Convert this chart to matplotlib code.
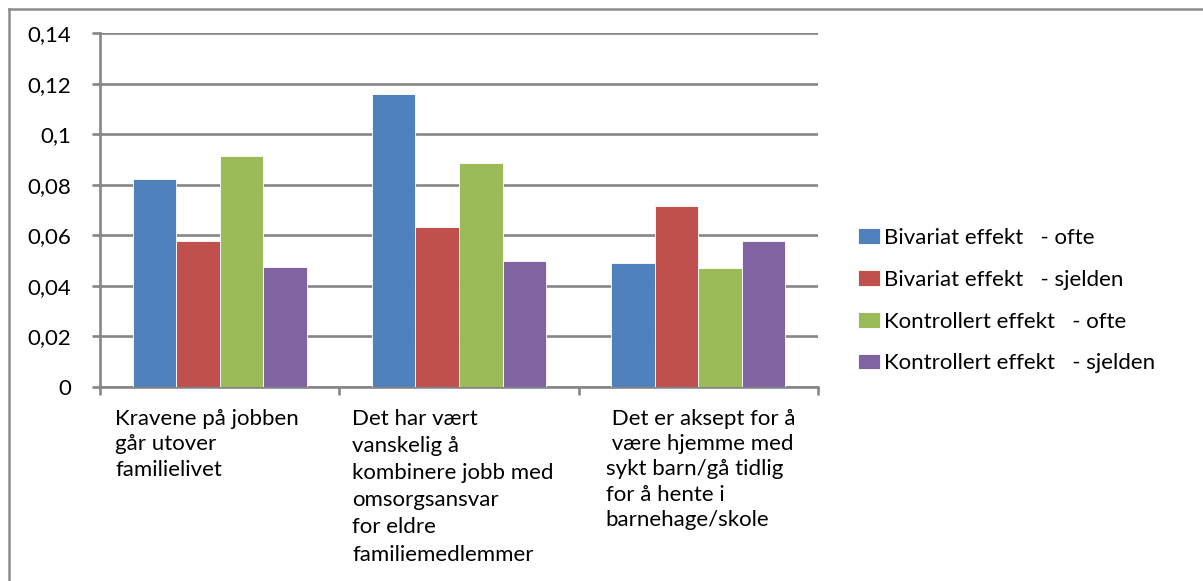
import numpy as np
import matplotlib.pyplot as plt
from matplotlib.lines import Line2D
from matplotlib.transforms import blended_transform_factory

# values
categories = ["Kravene på jobben\ngår utover\nfamilielivet",
              "Det har vært\nvanskelig å\nkombinere jobb med\nomsorgsansvar\nfor eldre\nfamiliemedlemmer",
              " Det er aksept for å\n være hjemme med\nsykt barn/gå tidlig\nfor å hente i\nbarnehage/skole"]
series_names = ["Bivariat effekt   - ofte", "Bivariat effekt   - sjelden",
                "Kontrollert effekt   - ofte", "Kontrollert effekt   - sjelden"]
bivariat_ofte = [0.0823, 0.1158, 0.0489]
bivariat_sjelden = [0.0578, 0.0633, 0.0715]
kontrollert_ofte = [0.0913, 0.0885, 0.0469]
kontrollert_sjelden = [0.0475, 0.0497, 0.0578]
yticks = [0, 0.02, 0.04, 0.06, 0.08, 0.1, 0.12, 0.14]
ytick_labels = ["0", "0,02", "0,04", "0,06", "0,08", "0,1", "0,12", "0,14"]

colors = ["#4F81BD", "#C0504D", "#9BBB59", "#8064A2"]
grey = "#868686"
fs = 16

plt.rcParams['font.family'] = ['Lato', 'DejaVu Sans']

fig = plt.figure(figsize=(12.03, 5.81), dpi=100)
ax = fig.add_axes([100 / 1203, 1 - 386.7 / 581, 718 / 1203, 353.4 / 581])

all_series = [bivariat_ofte, bivariat_sjelden, kontrollert_ofte, kontrollert_sjelden]
x = np.arange(len(categories))
w = 1 / 5.5
for i, vals in enumerate(all_series):
    ax.bar(x + (i - 1.5) * w, vals, width=w, color=colors[i], edgecolor="white",
           linewidth=0.6, label=series_names[i], zorder=3)

ax.set_xlim(-0.5, 2.5)
ax.set_ylim(0, 0.14)
ax.set_yticks(yticks)
ax.set_yticklabels(ytick_labels)
ax.yaxis.grid(True, color=grey, linewidth=1.9, zorder=0)
ax.tick_params(axis='y', length=6, width=1.9, color=grey, pad=15, labelsize=fs)

# category boundaries as ticks
ax.set_xticks([-0.5, 0.5, 1.5, 2.5])
ax.set_xticklabels([])
ax.tick_params(axis='x', which='major', length=6, width=1.9, color=grey)

# category labels, left aligned inside each category slot
trans = blended_transform_factory(ax.transData, ax.transAxes)
label_offsets = [0.063, 0.054, 0.113]
label_spacing = [1.36, 1.45, 1.34]
for i, lab in enumerate(categories):
    ax.text(i - 0.5 + label_offsets[i], -0.062, lab, transform=trans, ha='left', va='top',
            fontsize=fs, linespacing=label_spacing[i])

for side in ["top", "right"]:
    ax.spines[side].set_visible(False)
for side in ["left", "bottom"]:
    ax.spines[side].set_color(grey)
    ax.spines[side].set_linewidth(1.9)

fig.legend(loc="upper left", bbox_to_anchor=(858 / 1203, 1 - 228 / 581), frameon=False,
           fontsize=fs, handlelength=1.0, handleheight=0.7, handletextpad=0.15,
           labelspacing=0.98, borderaxespad=0, borderpad=0)

# outer frame (only top and left visible)
fig.add_artist(Line2D([8.5 / 1203, 8.5 / 1203], [0, 1 - 8.5 / 581], color="#8c8c8c", linewidth=1.8))
fig.add_artist(Line2D([8.5 / 1203, 1], [1 - 8.5 / 581, 1 - 8.5 / 581], color="#8c8c8c", linewidth=1.8))

fig.savefig("out.png", dpi=100)
